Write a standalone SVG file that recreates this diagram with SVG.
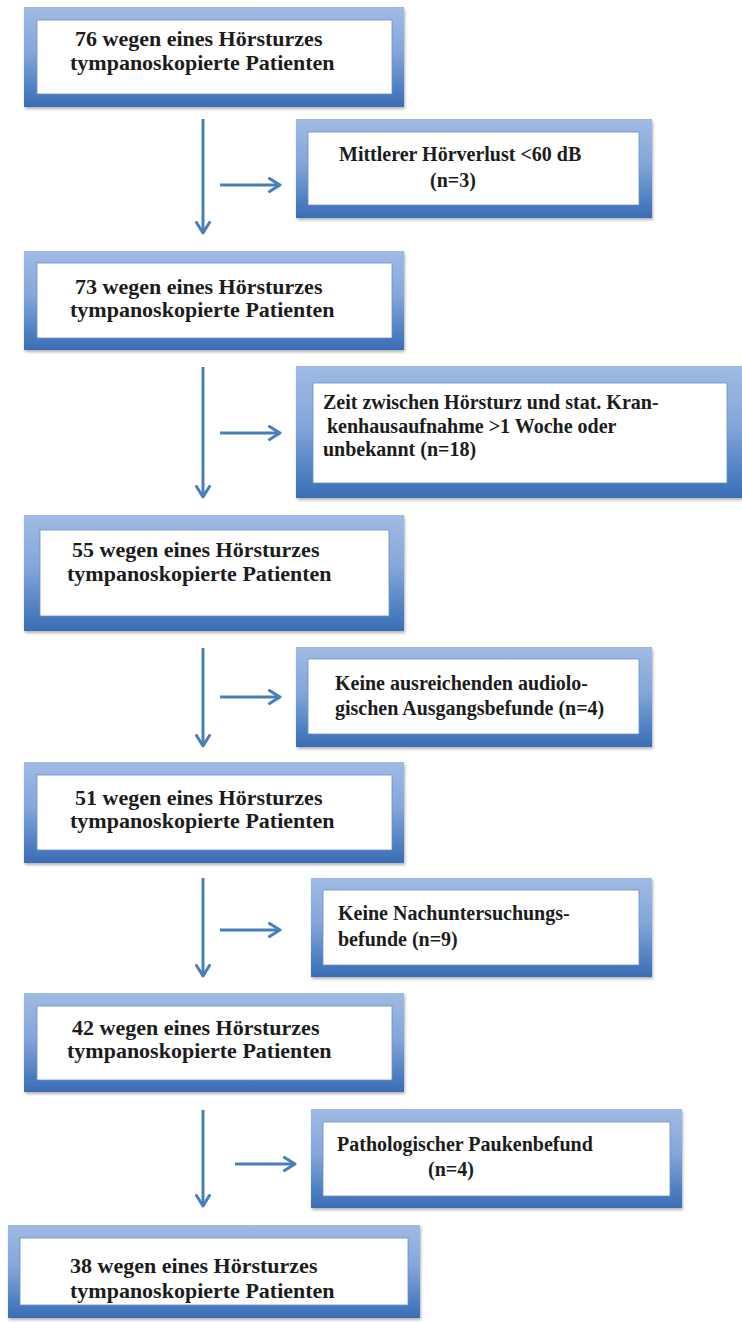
<svg xmlns="http://www.w3.org/2000/svg" width="742" height="1322" viewBox="0 0 742 1322">
<style>
.frame{fill:url(#bg);filter:url(#sh)}
.inner{fill:#ffffff;stroke:#6f8fbf;stroke-width:0.8}
.main{font-family:"Liberation Serif","Times New Roman",serif;font-weight:bold;font-size:22px;fill:#1c1c1c}
.side{font-family:"Liberation Serif","Times New Roman",serif;font-weight:bold;font-size:20px;fill:#1c1c1c}
.conn line{stroke:#4a7ebb;stroke-width:3;fill:none;marker-end:url(#ah)}
</style>
<defs>
<linearGradient id="bg" x1="0" y1="0" x2="0" y2="1">
<stop offset="0" stop-color="#9fbbe4"/>
<stop offset="0.45" stop-color="#84a6d9"/>
<stop offset="0.85" stop-color="#4a7cc0"/>
<stop offset="1" stop-color="#3b6db4"/>
</linearGradient>
<filter id="sh" x="-5%" y="-5%" width="110%" height="115%">
<feDropShadow dx="1" dy="2" stdDeviation="1.5" flood-color="#000" flood-opacity="0.3"/>
</filter>
<marker id="ah" viewBox="0 0 14 16" refX="12" refY="8" markerWidth="14" markerHeight="16" markerUnits="userSpaceOnUse" orient="auto">
<path d="M1.5,1.5 L12,8 L1.5,14.5" fill="none" stroke="#4a7ebb" stroke-width="3" stroke-linecap="round" stroke-linejoin="round"/>
</marker>
</defs>
<rect width="742" height="1322" fill="#ffffff"/>

<g id="connectors" class="conn">
<line x1="203" y1="119" x2="203" y2="233"/>
<line x1="220" y1="185" x2="280" y2="185"/>
<line x1="203" y1="367" x2="203" y2="497"/>
<line x1="220" y1="433" x2="280" y2="433"/>
<line x1="203" y1="648" x2="203" y2="746"/>
<line x1="220" y1="697" x2="280" y2="697"/>
<line x1="203" y1="878" x2="203" y2="976"/>
<line x1="220" y1="930" x2="280" y2="930"/>
<line x1="203" y1="1110" x2="203" y2="1206"/>
<line x1="235" y1="1164" x2="295" y2="1164"/>
</g>

<g id="box1">
<rect class="frame" x="24" y="7" width="380" height="100"/>
<rect class="inner" x="37" y="20" width="355" height="74"/>
<text class="main" x="75" y="46">76 wegen eines Hörsturzes</text>
<text class="main" x="70" y="70">tympanoskopierte Patienten</text>
</g>

<g id="excl1">
<rect class="frame" x="296" y="119" width="356" height="99"/>
<rect class="inner" x="308" y="132" width="331" height="73"/>
<text class="side" x="339" y="160.5">Mittlerer Hörverlust &lt;60 dB</text>
<text class="side" x="430" y="187">(n=3)</text>
</g>

<g id="box2">
<rect class="frame" x="24" y="251" width="380" height="99"/>
<rect class="inner" x="37" y="263" width="355" height="75"/>
<text class="main" x="75" y="294">73 wegen eines Hörsturzes</text>
<text class="main" x="70" y="317">tympanoskopierte Patienten</text>
</g>

<g id="excl2">
<rect class="frame" x="296" y="366" width="446" height="132"/>
<rect class="inner" x="313" y="383" width="414" height="100"/>
<text class="side" x="323" y="409">Zeit zwischen Hörsturz und stat. Kran-</text>
<text class="side" x="327" y="433">kenhausaufnahme &gt;1 Woche oder</text>
<text class="side" x="323" y="456">unbekannt (n=18)</text>
</g>

<g id="box3">
<rect class="frame" x="24" y="515" width="380" height="116"/>
<rect class="inner" x="40" y="530" width="349" height="86"/>
<text class="main" x="72" y="557">55 wegen eines Hörsturzes</text>
<text class="main" x="67" y="581">tympanoskopierte Patienten</text>
</g>

<g id="excl3">
<rect class="frame" x="296" y="647" width="356" height="100"/>
<rect class="inner" x="308" y="659" width="331" height="75"/>
<text class="side" x="335" y="690">Keine ausreichenden audiolo-</text>
<text class="side" x="335" y="715">gischen Ausgangsbefunde (n=4)</text>
</g>

<g id="box4">
<rect class="frame" x="24" y="762" width="380" height="101"/>
<rect class="inner" x="37" y="775" width="355" height="75"/>
<text class="main" x="75" y="805">51 wegen eines Hörsturzes</text>
<text class="main" x="70" y="828">tympanoskopierte Patienten</text>
</g>

<g id="excl4">
<rect class="frame" x="311" y="878" width="341" height="99"/>
<rect class="inner" x="323" y="890" width="316" height="75"/>
<text class="side" x="338" y="920">Keine Nachuntersuchungs-</text>
<text class="side" x="338" y="946">befunde (n=9)</text>
</g>

<g id="box5">
<rect class="frame" x="24" y="993" width="380" height="99"/>
<rect class="inner" x="37" y="1006" width="355" height="74"/>
<text class="main" x="72" y="1035">42 wegen eines Hörsturzes</text>
<text class="main" x="67" y="1058">tympanoskopierte Patienten</text>
</g>

<g id="excl5">
<rect class="frame" x="311" y="1109" width="371" height="99"/>
<rect class="inner" x="323" y="1122" width="347" height="74"/>
<text class="side" x="337" y="1151">Pathologischer Paukenbefund</text>
<text class="side" x="428" y="1176">(n=4)</text>
</g>

<g id="box6">
<rect class="frame" x="8" y="1225" width="412" height="93"/>
<rect class="inner" x="20" y="1238" width="388" height="67"/>
<text class="main" x="70" y="1273">38 wegen eines Hörsturzes</text>
<text class="main" x="70" y="1298">tympanoskopierte Patienten</text>
</g>
</svg>
